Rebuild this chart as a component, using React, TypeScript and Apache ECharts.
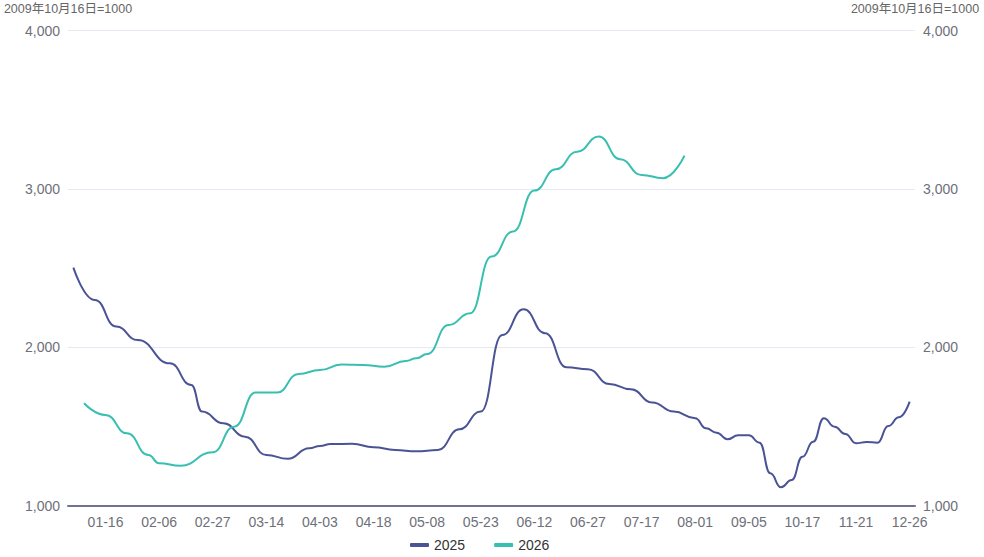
import React, { useEffect, useRef } from "react";
import * as echarts from "echarts";

const categories = [
  "01-03", "01-09", "01-10", "01-16", "01-17", "01-23", "01-24", "01-30", "02-06", "02-07",
  "02-13", "02-14", "02-21", "02-27", "02-28", "03-06", "03-07", "03-13", "03-14", "03-20",
  "03-21", "03-27", "03-28", "04-03", "04-07", "04-10", "04-11", "04-17", "04-18", "04-24",
  "04-25", "04-29", "04-30", "05-08", "05-09", "05-15", "05-16", "05-22", "05-23", "05-29",
  "05-30", "06-05", "06-06", "06-12", "06-13", "06-18", "06-20", "06-26", "06-27", "07-03",
  "07-04", "07-10", "07-11", "07-17", "07-18", "07-24", "07-25", "07-31", "08-01", "08-08",
  "08-15", "08-22", "08-29", "09-05", "09-12", "09-19", "09-26", "10-10", "10-17", "10-24",
  "10-31", "11-07", "11-14", "11-21", "11-28", "12-05", "12-12", "12-19", "12-26",
];

const series2025 = [
  2502, null, 2298, null, 2130, null, 2045, null, null, 1898,
  null, 1761, 1593, null, 1519, null, 1435, null, 1319, null,
  1295, null, 1361, 1376, 1388, null, 1390, null, 1368, null,
  1351, null, 1342, null, 1351, null, 1481, null, 1593, null,
  2077, null, 2239, null, 2088, null, 1873, null, 1861, null,
  1767, null, 1734, null, 1650, null, 1593, null, 1551, 1488,
  1460, 1418, 1443, 1443, 1397, 1203, 1115, 1161, 1308, 1403,
  1551, 1498, 1452, 1393, 1401, 1397, 1502, 1557, 1656,
];

const series2026 = [
  null, 1646, null, 1572, null, 1456, null, 1319, 1267, null,
  1251, null, null, 1336, null, 1498, null, 1713, null, 1713,
  null, 1831, null, 1856, null, 1890, null, 1888, null, 1877,
  null, 1913, 1930, 1957, null, 2140, null, 2214, null, 2572,
  null, 2730, null, 2989, null, 3124, null, 3235, null, 3330,
  null, 3187, null, 3088, null, 3067, null, 3210,
];

const seriesNames = ["2025", "2026"];
const axisName = "2009年10月16日=1000";
const yTicks = { min: 1000, max: 4000, interval: 1000 };

const FONT = "'Liberation Sans', 'Noto Sans CJK SC', sans-serif";
const C2025 = "#4a5396";
const C2026 = "#38bfb0";

export default function App() {
  const ref = useRef<HTMLDivElement>(null);
  useEffect(() => {
    if (!ref.current) return;
    const chart = echarts.init(ref.current, undefined, { renderer: "svg" });
    const last = categories.length - 1;
    const yAxisBase = (pos: "left" | "right") => ({
      type: "value",
      position: pos,
      min: yTicks.min,
      max: yTicks.max,
      interval: yTicks.interval,
      name: axisName,
      nameGap: 15,
      nameTextStyle: { color: "#666", fontSize: 12.5, fontFamily: FONT },
      axisLine: { show: false },
      axisTick: { show: false },
      axisLabel: {
        color: "#6e7079",
        fontSize: 14,
        fontFamily: FONT,
        margin: 8,
        formatter: (v: number) => v.toLocaleString("en-US"),
      },
      splitLine: { show: pos === "left", lineStyle: { color: "#e8e8f3", width: 1 } },
    });
    const lineSeries = (name: string, data: (number | null)[], color: string) => ({
      name,
      type: "line",
      data,
      smooth: true,
      smoothMonotone: "x",
      connectNulls: true,
      symbol: "none",
      lineStyle: { color, width: 2 },
      itemStyle: { color },
    });
    chart.setOption({
      animation: false,
      textStyle: { fontFamily: FONT },
      grid: { left: 68, right: 69, top: 30.5, bottom: 51.5 },
      legend: {
        data: seriesNames,
        left: 405,
        top: 533,
        icon: "roundRect",
        itemWidth: 19,
        itemHeight: 4,
        itemGap: 29,
        textStyle: { color: "#333", fontSize: 14, fontFamily: FONT },
      },
      xAxis: {
        type: "category",
        data: categories,
        boundaryGap: true,
        axisLine: { show: true, lineStyle: { color: "#6f7196", width: 2 } },
        axisTick: { show: false },
        axisLabel: {
          color: "#6e7079",
          fontSize: 14,
          fontFamily: FONT,
          margin: 9,
          interval: (index: number) => (last - index) % 5 === 0,
        },
      },
      yAxis: [yAxisBase("left"), yAxisBase("right")],
      series: [
        lineSeries(seriesNames[0], series2025, C2025),
        lineSeries(seriesNames[1], series2026, C2026),
      ],
    });
    return () => chart.dispose();
  }, []);
  return (
    <div
      ref={ref}
      style={{ position: "fixed", left: 0, top: 0, width: 984, height: 557, background: "#fff" }}
    />
  );
}
